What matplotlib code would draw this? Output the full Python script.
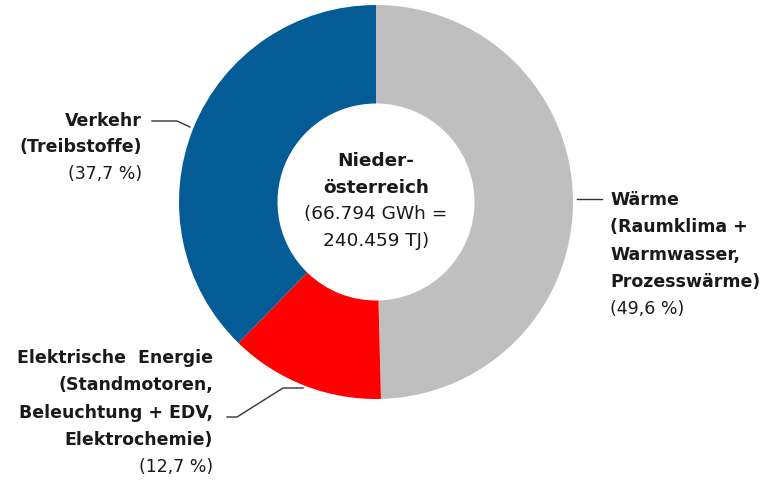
import matplotlib.pyplot as plt

# data
shares = [49.6, 12.7, 37.7]
colors = ["#bfbfbf", "#ff0000", "#035c96"]
center_bold = ["Nieder-", "österreich"]
center_light = ["(66.794 GWh =", "240.459 TJ)"]
label_bold = [
    ["Wärme", "(Raumklima +", "Warmwasser,", "Prozesswärme)"],
    ["Elektrische  Energie", "(Standmotoren,", "Beleuchtung + EDV,", "Elektrochemie)"],
    ["Verkehr", "(Treibstoffe)"],
]
label_pct = ["(49,6 %)", "(12,7 %)", "(37,7 %)"]

W, H = 763, 487
fig = plt.figure(figsize=(W / 100, H / 100), dpi=100)

def fx(x):
    return x / W

def fy(y):
    return 1 - y / H

# donut
cx, cy, r = 376, 202, 197
ax = fig.add_axes([fx(cx - r), fy(cy + r), 2 * r / W, 2 * r / H])
ax.pie(shares, colors=colors, startangle=90, counterclock=False,
       radius=1, wedgeprops=dict(width=0.5, linewidth=0))
ax.set_xlim(-1, 1)
ax.set_ylim(-1, 1)
ax.set_aspect("equal")
ax.axis("off")

txt = "#1a1a1a"

def block(x, y0, bold_lines, light_lines, ha, step=27, fs=12.5):
    y = y0
    for s in bold_lines:
        fig.text(fx(x), fy(y), s, ha=ha, va="center", fontsize=fs,
                 fontweight="bold", color=txt)
        y += step
    for s in light_lines:
        fig.text(fx(x), fy(y), s, ha=ha, va="center", fontsize=fs,
                 color=txt)
        y += step

# center text
block(cx, 161, center_bold, center_light, "center", step=26.5, fs=13.3)

# labels
block(610, 200, label_bold[0], [label_pct[0]], "left", step=27.3)
block(213, 358, label_bold[1], [label_pct[1]], "right", step=27.3)
block(142, 121, label_bold[2], [label_pct[2]], "right", step=26.5)

# leader lines
def leader(pts):
    xs = [fx(p[0]) for p in pts]
    ys = [fy(p[1]) for p in pts]
    fig.add_artist(plt.Line2D(xs, ys, color="#333333", linewidth=1.0))

leader([(577, 199), (602, 199)])
leader([(227, 417), (237, 417), (283, 388), (303, 388)])
leader([(152, 121), (177, 121), (190, 127)])

fig.savefig("out.png", dpi=100)
